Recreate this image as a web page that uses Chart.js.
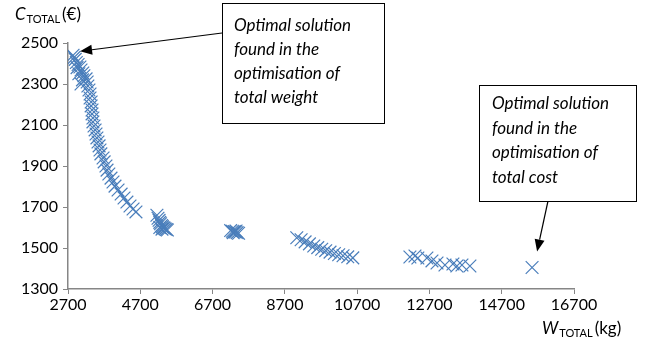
<!DOCTYPE html>
<html>
<head>
<meta charset="utf-8">
<script src="https://cdn.jsdelivr.net/npm/chart.js@4.4.0/dist/chart.umd.min.js"></script>
<style>
  html, body { margin: 0; padding: 0; background: #fff; }
  #wrap { width: 648px; height: 348px; }
</style>
</head>
<body>
<div id="wrap"><canvas id="ParetoChart" width="648" height="348"></canvas></div>
<script>
(function () {
  "use strict";

  // Pareto front: total weight (kg) vs total cost (EUR)
  const weightKg = [
    2840, 2870, 2900, 2930, 2950, 2980, 3000, 3030, 3060, 3060, 3100, 3110, 3140, 3200, 3230,
    3250, 3280, 3310, 3310, 3340, 3340, 3365, 3365, 3390, 3390, 3420, 3450, 3475, 3500,
    3530, 3560, 3585, 3610, 3670, 3700, 3750, 3780, 3830, 3890, 3945, 4000, 4085, 4170,
    4250, 4330, 4415, 4500, 4580,
    5160, 5190, 5220, 5240, 5240, 5260, 5290, 5300, 5310, 5330, 5360, 5390, 5420, 5450,
    7200, 7250, 7270, 7300, 7330, 7350, 7380, 7420,
    9030, 9150, 9260, 9380, 9500, 9610, 9720, 9830, 9950, 10070, 10190, 10310, 10440, 10580,
    12160, 12300, 12380, 12630, 12770, 12910, 13130, 13350, 13460, 13600, 13820,
    15540
  ];
  const costEur = [
    2440, 2430, 2420, 2405, 2380, 2395, 2350, 2383, 2368, 2300, 2320, 2354, 2340, 2325, 2310,
    2290, 2271, 2251, 2232, 2212, 2193, 2173, 2154, 2134, 2115, 2095, 2076, 2056, 2037,
    2017, 1998, 1978, 1959, 1939, 1920, 1900, 1880, 1861, 1841, 1822, 1802, 1783, 1763,
    1744, 1724, 1705, 1690, 1676,
    1660, 1645, 1635, 1625, 1600, 1618, 1610, 1592, 1605, 1600, 1597, 1593, 1590, 1588,
    1585, 1582, 1575, 1580, 1578, 1583, 1575, 1572,
    1550, 1540, 1530, 1520, 1510, 1502, 1494, 1487, 1480, 1473, 1467, 1462, 1457, 1452,
    1456, 1461, 1451, 1451, 1437, 1427, 1417, 1422, 1412, 1417, 1412,
    1405
  ];

  const xTicks = [2700, 4700, 6700, 8700, 10700, 12700, 14700, 16700];
  const yTicks = [1300, 1500, 1700, 1900, 2100, 2300, 2500];

  const noteWeight = ['Optimal solution', 'found in the', 'optimisation of', 'total weight'];
  const noteCost = ['Optimal solution', 'found in the', 'optimisation of', 'total cost'];

  const markerBlue = '#4A7EBB';
  const axisGray = '#868686';
  const fontFamily = 'Lato, "Open Sans", sans-serif';

  const points = weightKg.map(function (w, i) { return { x: w, y: costEur[i] }; });

  // Axis titles with subscript, e.g. C_TOTAL (€)
  function drawSubTitle(ctx, x, baseline, main, sub, suffix) {
    ctx.save();
    ctx.fillStyle = '#000';
    ctx.textBaseline = 'alphabetic';
    ctx.textAlign = 'left';
    ctx.font = 'italic 17px ' + fontFamily;
    ctx.fillText(main, x, baseline);
    x += ctx.measureText(main).width + 1;
    ctx.font = '11px ' + fontFamily;
    ctx.fillText(sub, x, baseline + 3);
    x += ctx.measureText(sub).width + 2;
    ctx.font = '17px ' + fontFamily;
    ctx.fillText(suffix, x, baseline);
    ctx.restore();
  }

  function drawNote(ctx, box, lines, textX, firstLineY, lineGap) {
    ctx.save();
    ctx.fillStyle = '#fff';
    ctx.fillRect(box.x, box.y, box.w, box.h);
    ctx.strokeStyle = '#000';
    ctx.lineWidth = 1;
    ctx.strokeRect(box.x + 0.5, box.y + 0.5, box.w, box.h);
    ctx.fillStyle = '#000';
    ctx.font = 'italic 17px ' + fontFamily;
    ctx.textBaseline = 'middle';
    ctx.textAlign = 'left';
    lines.forEach(function (t, i) {
      ctx.fillText(t, textX, firstLineY + i * lineGap);
    });
    ctx.restore();
  }

  function drawArrow(ctx, x0, y0, x1, y1) {
    const ang = Math.atan2(y1 - y0, x1 - x0);
    const len = 12, half = 5;
    const bx = x1 - Math.cos(ang) * len, by = y1 - Math.sin(ang) * len;
    ctx.save();
    ctx.strokeStyle = '#000';
    ctx.fillStyle = '#000';
    ctx.lineWidth = 1.2;
    ctx.beginPath();
    ctx.moveTo(x0, y0);
    ctx.lineTo(bx, by);
    ctx.stroke();
    ctx.beginPath();
    ctx.moveTo(x1, y1);
    ctx.lineTo(bx + Math.sin(ang) * half, by - Math.cos(ang) * half);
    ctx.lineTo(bx - Math.sin(ang) * half, by + Math.cos(ang) * half);
    ctx.closePath();
    ctx.fill();
    ctx.restore();
  }

  const annotations = {
    id: 'annotations',
    afterDraw: function (chart) {
      const ctx = chart.ctx;
      const xs = chart.scales.x, ys = chart.scales.y;

      drawSubTitle(ctx, 15, 20, 'C', 'TOTAL', '(€)');
      drawSubTitle(ctx, 542, 334, 'W', 'TOTAL', '(kg)');

      // lightest design (first point) and cheapest design (last point)
      const first = 0, last = weightKg.length - 1;
      const fx = xs.getPixelForValue(weightKg[first]), fy = ys.getPixelForValue(costEur[first]);
      const lx = xs.getPixelForValue(weightKg[last]), ly = ys.getPixelForValue(costEur[last]);

      drawArrow(ctx, 222, 33, fx + 7, fy - 4);
      drawNote(ctx, { x: 222, y: 3, w: 162, h: 120 }, noteWeight, 234, 26, 24);

      drawArrow(ctx, 548, 201, lx + 5, ly - 16);
      drawNote(ctx, { x: 479, y: 85, w: 157, h: 116 }, noteCost, 492, 104, 24.5);
    }
  };

  const ctx = document.getElementById('ParetoChart').getContext('2d');
  new Chart(ctx, {
    type: 'scatter',
    data: {
      datasets: [{
        label: 'Pareto front',
        data: points,
        pointStyle: 'crossRot',
        pointRadius: 9,
        pointHoverRadius: 9,
        borderColor: markerBlue,
        backgroundColor: markerBlue,
        borderWidth: 1.2
      }]
    },
    options: {
      responsive: false,
      animation: false,
      events: [],
      layout: { padding: { left: 0, top: 43, right: 74, bottom: 0 } },
      plugins: {
        legend: { display: false },
        tooltip: { enabled: false }
      },
      scales: {
        x: {
          type: 'linear',
          min: xTicks[0],
          max: xTicks[xTicks.length - 1],
          afterBuildTicks: function (scale) {
            scale.ticks = xTicks.map(function (v) { return { value: v }; });
          },
          afterFit: function (scale) { scale.height = 59; },
          border: { display: true, color: axisGray, width: 1.5 },
          grid: { display: true, drawOnChartArea: false, drawTicks: true, tickLength: 5, color: axisGray, lineWidth: 1 },
          ticks: {
            color: '#000',
            padding: 1,
            maxRotation: 0,
            font: { family: fontFamily, size: 16 },
            callback: function (v) { return String(v); }
          }
        },
        y: {
          type: 'linear',
          min: yTicks[0],
          max: yTicks[yTicks.length - 1],
          afterBuildTicks: function (scale) {
            scale.ticks = yTicks.map(function (v) { return { value: v }; });
          },
          afterFit: function (scale) { scale.width = 68; },
          border: { display: true, color: axisGray, width: 1.5 },
          grid: { display: true, drawOnChartArea: false, drawTicks: true, tickLength: 5, color: axisGray, lineWidth: 1 },
          ticks: {
            color: '#000',
            padding: 5,
            font: { family: fontFamily, size: 16 },
            callback: function (v) { return String(v); }
          }
        }
      }
    },
    plugins: [annotations]
  });
})();
</script>
</body>
</html>
